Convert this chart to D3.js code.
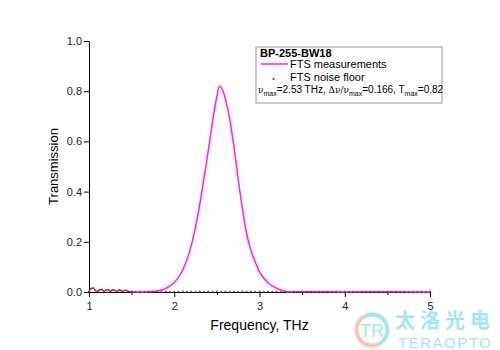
<!DOCTYPE html>
<html>
<head>
<meta charset="utf-8">
<script src="https://cdn.jsdelivr.net/npm/d3@7"></script>
<style>
  body { margin: 0; background: #fff; }
  svg { display: block; font-family: "Liberation Sans", Arial, sans-serif; }
  .axis text { font-size: 11px; fill: #222; }
  .axis path, .axis line { stroke: #000; stroke-width: 1; }
</style>
</head>
<body>
<div id="chart"></div>
<script>
// FTS measurement (frequency in THz, transmission)
const measFreq = [1.50, 1.60, 1.70, 1.75, 1.80, 1.85, 1.90, 1.95, 2.00, 2.05, 2.10, 2.15, 2.20, 2.25, 2.30, 2.35, 2.40, 2.45, 2.50, 2.53,
                  2.56, 2.60, 2.65, 2.70, 2.75, 2.80, 2.85, 2.90, 2.95, 3.00, 3.05, 3.10, 3.15, 3.20, 3.25, 3.30, 3.35, 3.50, 4.00, 4.50, 5.00];
const measT = [0.001, 0.000, 0.001, 0.002, 0.004, 0.008, 0.014, 0.024, 0.038, 0.058, 0.088, 0.130, 0.185, 0.260, 0.350, 0.455, 0.565, 0.680, 0.780, 0.820,
               0.810, 0.770, 0.690, 0.580, 0.450, 0.330, 0.230, 0.165, 0.120, 0.080, 0.055, 0.037, 0.024, 0.015, 0.008, 0.003, 0.000, 0.001, 0.000, 0.001, 0.000];

// FTS noise floor
const noiseFreq = [1.000, 1.025, 1.050, 1.075, 1.100, 1.125, 1.150, 1.175, 1.200, 1.225, 1.250, 1.275, 1.300, 1.325, 1.350, 1.375, 1.400, 1.425, 1.450, 1.475,
                   1.50, 1.55, 1.60, 1.65, 1.70, 1.75, 1.80, 1.85, 1.90, 1.95, 2.00, 2.05, 2.10, 2.15, 2.20, 2.25, 2.30, 2.35, 2.40, 2.45,
                   2.50, 2.55, 2.60, 2.65, 2.70, 2.75, 2.80, 2.85, 2.90, 2.95, 3.00, 3.05, 3.10, 3.15, 3.20, 3.25, 3.30, 3.35, 3.40, 3.45,
                   3.50, 3.55, 3.60, 3.65, 3.70, 3.75, 3.80, 3.85, 3.90, 3.95, 4.00, 4.05, 4.10, 4.15, 4.20, 4.25, 4.30, 4.35, 4.40, 4.45,
                   4.50, 4.55, 4.60, 4.65, 4.70, 4.75, 4.80, 4.85, 4.90, 4.95, 5.00];
const noiseT = [0.002, 0.014, 0.016, 0.006, 0.002, 0.008, 0.010, 0.003, 0.007, 0.009, 0.002, 0.008, 0.007, 0.002, 0.008, 0.006, 0.002, 0.007, 0.005, 0.001,
                0.002, 0.001, 0.002, 0.001, 0.002, 0.001, 0.002, 0.001, 0.002, 0.001, 0.002, 0.001, 0.002, 0.001, 0.002, 0.001, 0.002, 0.001, 0.002, 0.001,
                0.002, 0.001, 0.002, 0.001, 0.002, 0.001, 0.002, 0.001, 0.002, 0.001, 0.002, 0.001, 0.002, 0.001, 0.002, 0.001, 0.002, 0.001, 0.002, 0.001,
                0.002, 0.001, 0.002, 0.001, 0.002, 0.001, 0.002, 0.001, 0.002, 0.001, 0.002, 0.001, 0.002, 0.001, 0.002, 0.001, 0.002, 0.001, 0.002, 0.001,
                0.002, 0.001, 0.002, 0.001, 0.002, 0.001, 0.002, 0.001, 0.002, 0.001, 0.002];

const xTicks = [1, 2, 3, 4, 5];
const xMinorTicks = [1.5, 2.5, 3.5, 4.5];
const yTicks = [0, 0.2, 0.4, 0.6, 0.8, 1.0];

const legendTitle = "BP-255-BW18";
const seriesNames = ["FTS measurements", "FTS noise floor"];

const width = 500, height = 350;
const margin = {top: 41, right: 70, bottom: 58, left: 89};
const plotW = width - margin.left - margin.right;
const plotH = height - margin.top - margin.bottom;

const svg = d3.select("#chart").append("svg")
    .attr("width", width)
    .attr("height", height);

const g = svg.append("g")
    .attr("transform", "translate(" + margin.left + "," + margin.top + ")");

const x = d3.scaleLinear().domain([1, 5]).range([0, plotW]);
const y = d3.scaleLinear().domain([0, 1]).range([plotH, 0]);

// axes
g.append("g")
    .attr("class", "axis")
    .attr("transform", "translate(0," + plotH + ")")
    .call(d3.axisBottom(x).tickValues(xMinorTicks).tickSize(3).tickSizeOuter(0).tickFormat(""));
g.append("g")
    .attr("class", "axis")
    .attr("transform", "translate(0," + plotH + ")")
    .call(d3.axisBottom(x).tickValues(xTicks).tickSize(5).tickSizeOuter(0).tickFormat(d3.format("d")))
    .selectAll("text").attr("dy", "0.95em");
g.append("g")
    .attr("class", "axis")
    .call(d3.axisLeft(y).tickValues(yTicks).tickSize(5).tickSizeOuter(0).tickFormat(d3.format(".1f")))
    .selectAll("text").attr("x", -7);

// axis labels
g.append("text")
    .attr("transform", "rotate(-90)")
    .attr("x", -plotH / 2)
    .attr("y", -31)
    .style("text-anchor", "middle")
    .style("font-size", "13px")
    .text("Transmission");
g.append("text")
    .attr("x", plotW / 2)
    .attr("y", plotH + 38)
    .style("text-anchor", "middle")
    .style("font-size", "14px")
    .text("Frequency, THz");

// measurement curve
const meas = measFreq.map((f, i) => ({f: f, t: measT[i]}));
const line = d3.line()
    .x(d => x(d.f))
    .y(d => y(d.t))
    .curve(d3.curveMonotoneX);
g.append("path")
    .datum(meas)
    .attr("fill", "none")
    .attr("stroke", "#ff1cff")
    .attr("stroke-width", 1.5)
    .attr("d", line);

// noise floor
const noise = noiseFreq.map((f, i) => ({f: f, t: noiseT[i]}));
g.append("path")
    .datum(noise.filter(d => d.f <= 1.5))
    .attr("fill", "none")
    .attr("stroke", "#a3213a")
    .attr("stroke-width", 1.2)
    .attr("d", line);
g.selectAll(".noise")
    .data(noise)
    .enter()
    .append("circle")
    .attr("class", "noise")
    .attr("cx", d => x(d.f))
    .attr("cy", d => y(d.t))
    .attr("r", 1)
    .attr("fill", "#a0242e")
    .attr("opacity", 0.85);

// legend
const lg = svg.append("g").attr("transform", "translate(256,47)");
lg.append("rect")
    .attr("x", 0).attr("y", 0)
    .attr("width", 186).attr("height", 56)
    .attr("fill", "#fff")
    .attr("stroke", "#999")
    .attr("stroke-width", 1);
lg.append("text")
    .attr("x", 4).attr("y", 10)
    .style("font-size", "11px")
    .style("font-weight", "bold")
    .text(legendTitle);
lg.append("line")
    .attr("x1", 5).attr("x2", 32)
    .attr("y1", 17).attr("y2", 17)
    .attr("stroke", "#ff1cff")
    .attr("stroke-width", 1.5);
lg.append("text")
    .attr("x", 34).attr("y", 21)
    .style("font-size", "11px")
    .text(seriesNames[0]);
lg.append("circle")
    .attr("cx", 17.5).attr("cy", 32)
    .attr("r", 1)
    .attr("fill", "#c00");
lg.append("text")
    .attr("x", 34).attr("y", 34)
    .style("font-size", "11px")
    .text(seriesNames[1]);

const stat = lg.append("text")
    .attr("x", 2).attr("y", 46)
    .style("font-size", "10px");
stat.append("tspan").style("font-family", "'DejaVu Serif', serif").style("font-size", "9px").text("ν");
stat.append("tspan").attr("dy", 3).style("font-size", "7px").text("max");
stat.append("tspan").attr("dy", -3).text("=2.53 THz, ");
stat.append("tspan").style("font-family", "'DejaVu Serif', serif").style("font-size", "9px").text("Δν/ν");
stat.append("tspan").attr("dy", 3).style("font-size", "7px").text("max");
stat.append("tspan").attr("dy", -3).text("=0.166,  T");
stat.append("tspan").attr("dy", 3).style("font-size", "7px").text("max");
stat.append("tspan").attr("dy", -3).text("=0.82");

// watermark
const wm = svg.append("g").attr("opacity", 0.5);
wm.append("path")
    .attr("d", d3.arc()({innerRadius: 13.5, outerRadius: 17.5, startAngle: -Math.PI * 0.15, endAngle: Math.PI * 0.85}))
    .attr("transform", "translate(372,330)")
    .attr("fill", "#3fd0ea");
wm.append("path")
    .attr("d", d3.arc()({innerRadius: 13.5, outerRadius: 17.5, startAngle: Math.PI * 0.85, endAngle: Math.PI * 1.85}))
    .attr("transform", "translate(372,330)")
    .attr("fill", "#f28a7e");
wm.append("text")
    .attr("x", 372).attr("y", 337)
    .attr("text-anchor", "middle")
    .style("font-size", "18px")
    .style("fill", "#3fd0ea")
    .text("TR");
wm.append("text")
    .attr("x", 395).attr("y", 328)
    .style("font-family", "'Noto Sans CJK SC', sans-serif")
    .style("font-size", "20px")
    .style("font-weight", "bold")
    .style("letter-spacing", "5px")
    .style("fill", "#3fd0ea")
    .text("太洛光电");
wm.append("text")
    .attr("x", 398).attr("y", 348)
    .style("font-size", "15px")
    .style("letter-spacing", "1.5px")
    .style("fill", "#3fd0ea")
    .text("TERAOPTO");
</script>
</body>
</html>
